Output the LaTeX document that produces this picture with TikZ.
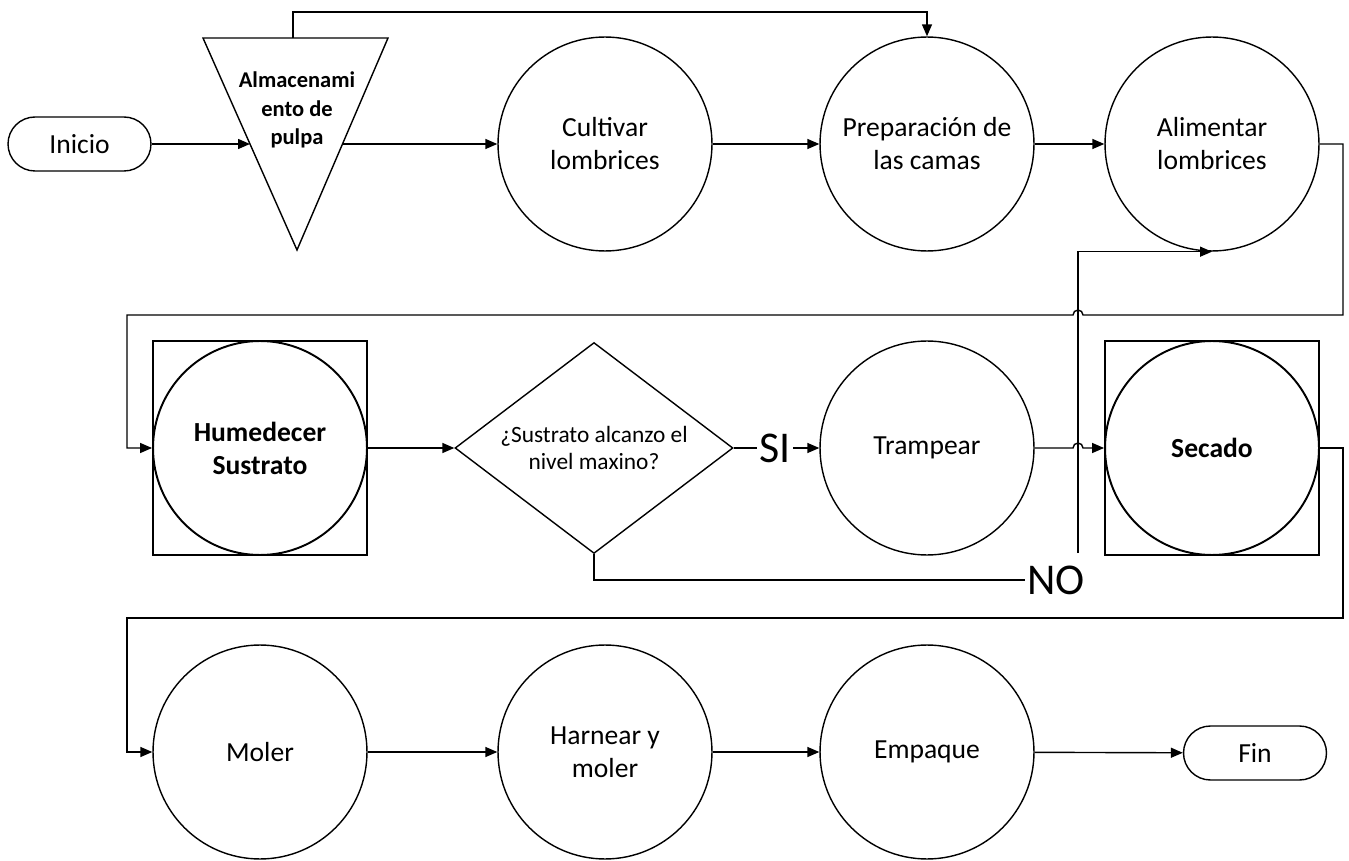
\documentclass[tikz,border=0pt]{standalone}
\usepackage{fontspec}
\setmainfont{Carlito}
\usepackage{tikz}
\usetikzlibrary{arrows.meta,calc,shapes.geometric}
\tikzset{
  terminal/.style={
    rectangle, rounded corners=0.54cm, draw,
    minimum width=2.86cm, minimum height=1.08cm,
    font=\fontsize{15.7}{18.8}\selectfont
  },
  proceso/.style={
    circle, draw, minimum size=4.28cm, inner sep=0pt,
    align=center, font=\fontsize{15.7}{18.8}\selectfont
  },
  procesob/.style={proceso, line width=1.1pt, font=\fontsize{15.7}{18.8}\selectfont\bfseries},
  marco/.style={rectangle, draw, line width=1.1pt, minimum size=4.28cm, inner sep=0pt},
  decision/.style={
    diamond, draw, aspect=1.32, minimum width=5.56cm, minimum height=4.22cm, inner sep=0pt,
    align=center, font=\fontsize{13.3}{15.9}\selectfont
  },
  almtexto/.style={align=center, font=\fontsize{12.8}{16.4}\selectfont\bfseries},
  rama/.style={font=\fontsize{25}{30}\selectfont, inner sep=1pt},
  flecha/.style={-{Triangle[length=2.4mm,width=2mm]}}
}

\begin{document}
\begin{tikzpicture}[x=0.02cm, y=0.02cm, line width=0.8pt]
  \useasboundingbox (0,0) rectangle (1349,-861);

  % ==== FILA 1 ====
  \node[terminal] (inicio) at (79.5,-144) {Inicio};
  \coordinate (almTL) at (203,-38);
  \coordinate (almTR) at (388,-38);
  \coordinate (almB)  at (297,-250);
  \coordinate (almT)  at (293,-38);
  \draw (almTL) -- (almTR) -- (almB) -- cycle;
  \coordinate (almL) at ($(almTL)!0.5!(almB)$);
  \coordinate (almR) at ($(almTR)!0.5!(almB)$);
  \node[almtexto] (alm) at (297,-110) {Almacenami\\ento de\\pulpa};
  \node[proceso] (cultivar)  at (605,-144)  {Cultivar\\lombrices};
  \node[proceso] (camas)     at (927,-144)  {Preparación de\\las camas};
  \node[proceso] (alimentar) at (1212,-144) {Alimentar\\lombrices};

  \draw[flecha] (inicio) -- (almL);
  \draw[flecha] (almR) -- (cultivar);
  \draw[flecha] (cultivar) -- (camas);
  \draw[flecha] (camas) -- (alimentar);
  \draw[flecha] (almT) -- ++(0,26) -| (camas.north);

  % ==== FILA 2 ====
  \node[marco] (humedecerM) at (260,-448) {};
  \node[procesob] (humedecer) at (260,-448) {Humedecer\\Sustrato};
  \node[decision] (sustrato) at (594,-448) {¿Sustrato alcanzo el\\nivel maxino?};
  \node[rama] (si) at (775,-448) {SI};
  \node[proceso] (trampear) at (927,-448) {Trampear};
  \node[marco] (secadoM) at (1212,-448) {};
  \node[procesob] (secado) at (1212,-448) {Secado};
  \node[rama] (no) at (1056,-580) {NO};
  \coordinate (nosal) at (1078,-553);

  \draw[flecha] (alimentar.east) -- (1343,-144) -- (1343,-315) -- (1083,-315)
    arc[start angle=0, end angle=180, radius=5] -- (127,-315) |- (humedecer.west);
  \draw[flecha] (humedecer) -- (sustrato);
  \draw (sustrato.east) -- (si.west);
  \draw[flecha] (si.east) -- (trampear.west);
  \draw[flecha] (trampear.east) -- (1073,-448)
    arc[start angle=180, end angle=0, radius=5] -- (secado.west);
  \draw (sustrato.south) |- (no.west);
  \draw[flecha] (nosal) |- (alimentar.south);

  % ==== FILA 3 ====
  \node[proceso] (moler)   at (260,-752) {Moler};
  \node[proceso] (harnear) at (605,-752) {Harnear y\\moler};
  \node[proceso] (empaque) at (927,-752) {Empaque};
  \node[terminal] (fin) at (1255,-753) {Fin};

  \draw[flecha] (secado.east) -- (1343,-448) -- (1343,-618) -- (127,-618) |- (moler.west);
  \draw[flecha] (moler) -- (harnear);
  \draw[flecha] (harnear) -- (empaque);
  \draw[flecha] (empaque) -- (fin);
\end{tikzpicture}
\end{document}
